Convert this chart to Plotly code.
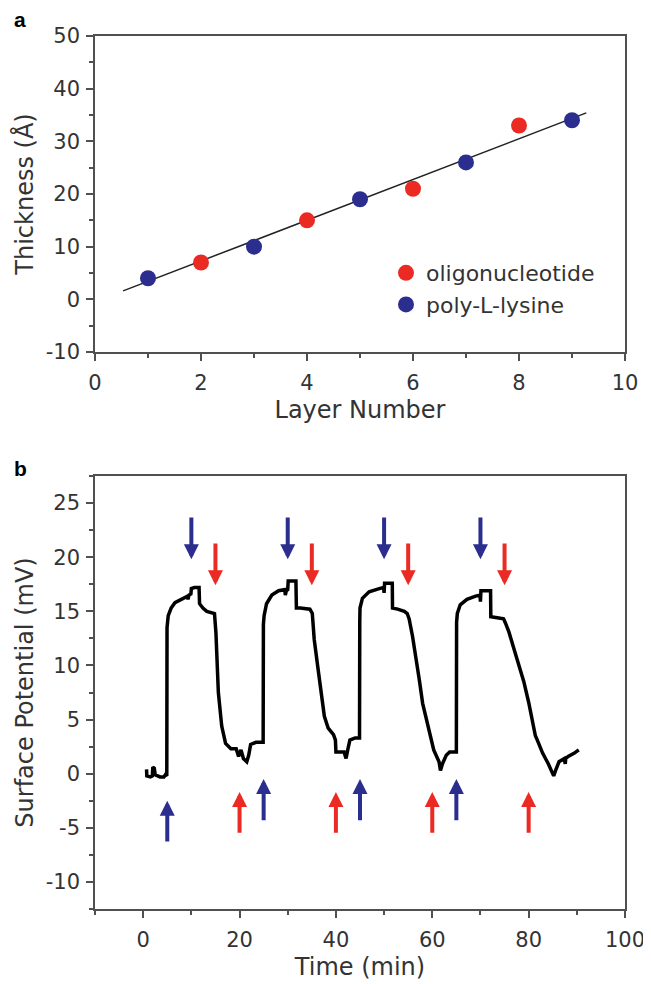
import plotly.graph_objects as go

# --- panel a: layer thickness ---
layer_oligo = [2, 4, 6, 8]
thick_oligo = [7, 15, 21, 33]
layer_pll = [1, 3, 5, 7, 9]
thick_pll = [4, 10, 19, 26, 34]
fit_x = [0.53, 9.27]
fit_y = [1.6, 35.4]
a_yticks = [-10, 0, 10, 20, 30, 40, 50]
a_xticks = [0, 2, 4, 6, 8, 10]

# --- panel b: surface potential trace ---
time_min = [0.7, 0.75, 1.5, 1.9, 2.0, 2.3, 2.5, 3.5, 4.3, 4.6, 4.9,
            4.95, 5.2, 5.8, 6.6, 8.0, 8.6, 9.2, 9.3, 9.5, 9.9, 10.0, 10.6, 11.6, 11.7, 12.4, 13.2, 14.2, 14.8,
            15.1, 15.3, 15.6, 16.3, 17.1, 18.2, 19.3, 19.8, 20.3, 20.8, 21.5, 21.9, 22.3, 23.4, 24.9,
            24.95, 25.1, 25.6, 26.7, 28.1, 29.4, 29.5, 29.7, 30.0, 30.1, 31.7, 31.8, 32.6, 34.6, 35.1,
            35.5, 36.2, 36.9, 37.6, 38.4, 39.5, 39.9, 40.0, 41.7, 42.1, 42.5, 42.9, 44.0, 44.9,
            44.95, 45.0, 45.5, 46.9, 49.0, 49.9, 50.0, 50.1, 51.7, 51.75, 52.8, 54.2, 54.8,
            55.2, 55.9, 56.6, 57.3, 58.0, 58.8, 59.5, 60.3, 61.4, 61.7, 62.1, 62.9, 63.6, 65.0,
            65.05, 65.2, 65.8, 67.2, 69.0, 69.9, 70.0, 70.1, 72.1, 72.15, 73.5, 74.8,
            75.2, 75.9, 76.9, 78.0, 79.0, 80.0, 80.7, 81.4, 81.8, 82.9, 84.1, 85.2, 85.6, 86.3,
            87.4, 87.6, 87.7, 88.2, 89.5, 90.4]
potential_mv = [0.4, -0.2, -0.3, -0.2, 0.6, 0.5, -0.1, -0.3, -0.3, -0.1, -0.2,
                13.5, 14.6, 15.3, 15.8, 16.1, 16.3, 16.4, 16.1, 16.5, 16.6, 17.1, 17.2, 17.2, 15.7, 15.3, 15.0, 14.9, 14.8,
                13.0, 10.6, 7.5, 4.4, 2.8, 2.3, 2.3, 1.6, 2.2, 1.4, 1.1, 1.7, 2.7, 2.9, 2.9,
                13.8, 14.6, 15.7, 16.5, 16.9, 17.0, 16.5, 16.9, 17.0, 17.8, 17.8, 15.3, 15.3, 15.2, 14.8,
                12.4, 10.0, 7.6, 5.3, 4.2, 3.6, 3.1, 2.0, 2.0, 1.4, 2.3, 3.1, 3.3, 3.3,
                14.0, 15.3, 16.2, 16.8, 17.1, 17.2, 16.7, 17.6, 17.6, 15.3, 15.2, 15.0, 14.8,
                14.3, 12.7, 10.9, 8.7, 6.5, 5.0, 3.4, 2.2, 1.1, 0.3, 0.9, 1.7, 2.0, 2.0,
                14.0, 14.8, 15.6, 16.1, 16.4, 16.5, 15.9, 16.9, 16.9, 14.5, 14.4, 14.3,
                13.9, 13.1, 11.6, 10.1, 8.5, 6.6, 5.1, 3.5, 3.1, 1.9, 0.9, -0.2, 0.3, 1.1,
                1.4, 0.9, 1.4, 1.6, 1.9, 2.2]
b_yticks = [-10, -5, 0, 5, 10, 15, 20, 25]
b_xticks = [0, 20, 40, 60, 80, 100]

# injection arrows (tail -> tip)
blue_down_x = [10, 30, 50, 70]
blue_down_tail, blue_down_tip = 23.8, 19.8
red_down_x = [15, 35, 55, 75]
red_down_tail, red_down_tip = 21.4, 17.4
blue_up_x = [5, 25, 45, 65]
blue_up_tail = [-6.4, -4.45, -4.45, -4.45]
blue_up_tip = [-2.5, -0.5, -0.5, -0.5]
red_up_x = [20, 40, 60, 80]
red_up_tail, red_up_tip = -5.6, -1.7

RED = '#ec2a24'
BLUE = '#2b2e8e'
AXIS = '#505050'
TXT = '#333333'
FONT = 'DejaVu Sans, sans-serif'

# pixel layout, in window pixels; the page body puts the figure 8px in
OFF = 8
W, H = 651 - OFF, 984 - OFF
ML, MR, MT, MB = 95 - OFF, 651 - 625, 36 - OFF, 984 - 909
PA_BOTTOM = 352 - OFF   # bottom of panel a
PB_TOP = 476 - OFF      # top of panel b
PH = H - MT - MB


def py(pix):
    return (H - MB - pix) / PH


def px(pix):
    return (pix - ML) / (W - ML - MR)


fig = go.Figure()
fig.add_trace(go.Scatter(x=fit_x, y=fit_y, mode='lines', line=dict(color='#222222', width=1.5),
                         showlegend=False, xaxis='x', yaxis='y'))
fig.add_trace(go.Scatter(x=layer_oligo, y=thick_oligo, mode='markers', name='oligonucleotide',
                         marker=dict(color=RED, size=16), xaxis='x', yaxis='y'))
fig.add_trace(go.Scatter(x=layer_pll, y=thick_pll, mode='markers', name='poly-L-lysine',
                         marker=dict(color=BLUE, size=16), xaxis='x', yaxis='y'))
fig.add_trace(go.Scatter(x=time_min, y=potential_mv, mode='lines', line=dict(color='black', width=3.5),
                         showlegend=False, xaxis='x2', yaxis='y2'))

annotations = []


def arrow(x, tail, tip, color):
    return dict(x=x, y=tip, ax=x, ay=tail, xref='x2', yref='y2', axref='x2', ayref='y2',
                text='', showarrow=True, arrowhead=2, arrowsize=0.75, arrowwidth=4, arrowcolor=color)


for x in blue_down_x:
    annotations.append(arrow(x, blue_down_tail, blue_down_tip, BLUE))
for x in red_down_x:
    annotations.append(arrow(x, red_down_tail, red_down_tip, RED))
for x, tl, tp in zip(blue_up_x, blue_up_tail, blue_up_tip):
    annotations.append(arrow(x, tl, tp, BLUE))
for x in red_up_x:
    annotations.append(arrow(x, red_up_tail, red_up_tip, RED))

for lab, lx, ly in [('a', 20 - OFF, 19 - OFF), ('b', 20 - OFF, 468 - OFF)]:
    annotations.append(dict(text='<b>%s</b>' % lab, x=px(lx), y=py(ly), xref='paper', yref='paper',
                            xanchor='center', yanchor='middle', showarrow=False,
                            font=dict(size=21, color='black', family='Liberation Sans, Arial')))

ax_common = dict(showline=True, linecolor=AXIS, linewidth=1.5, mirror=True, ticks='outside',
                 ticklen=7, tickwidth=1.5, tickcolor=AXIS, showgrid=False, zeroline=False,
                 automargin=False,
                 tickfont=dict(size=21, color=TXT, family=FONT),
                 title_font=dict(size=24, color=TXT, family=FONT))


def minor(step):
    return dict(ticks='outside', tickmode='linear', tick0=0, dtick=step, ticklen=4,
                tickwidth=1.5, tickcolor=AXIS)


fig.update_layout(
    width=W, height=H,
    margin=dict(l=ML, r=MR, t=MT, b=MB),
    plot_bgcolor='white', paper_bgcolor='white',
    font=dict(family=FONT),
    xaxis=dict(domain=[0, 1], anchor='y', range=[0, 10],
               tickmode='array', tickvals=a_xticks, ticktext=[str(v) for v in a_xticks],
               minor=minor(1), ticklabelstandoff=4,
               title=dict(text='Layer Number', standoff=7), **ax_common),
    yaxis=dict(domain=[py(PA_BOTTOM), 1], anchor='x', range=[-10, 50],
               tickmode='array', tickvals=a_yticks, ticktext=[str(v) for v in a_yticks],
               minor=minor(5), ticklabelstandoff=2,
               title=dict(text='Thickness (Å)', standoff=5), **ax_common),
    xaxis2=dict(domain=[0, 1], anchor='y2', range=[-10, 100],
                tickmode='array', tickvals=b_xticks, ticktext=[str(v) for v in b_xticks],
                minor=minor(10), ticklabelstandoff=4,
                title=dict(text='Time (min)', standoff=7), **ax_common),
    yaxis2=dict(domain=[0, py(PB_TOP)], anchor='x2', range=[-12.5, 27.5],
                tickmode='array', tickvals=b_yticks, ticktext=[str(v) for v in b_yticks],
                minor=minor(2.5), ticklabelstandoff=2,
                title=dict(text='Surface Potential (mV)', standoff=5), **ax_common),
    legend=dict(x=px(386 - OFF), y=py(252 - OFF), xanchor='left', yanchor='top', bgcolor='rgba(0,0,0,0)',
                font=dict(size=22, color=TXT, family=FONT), itemsizing='trace',
                tracegroupgap=0),
    annotations=annotations,
)

fig.write_html('out.html')
